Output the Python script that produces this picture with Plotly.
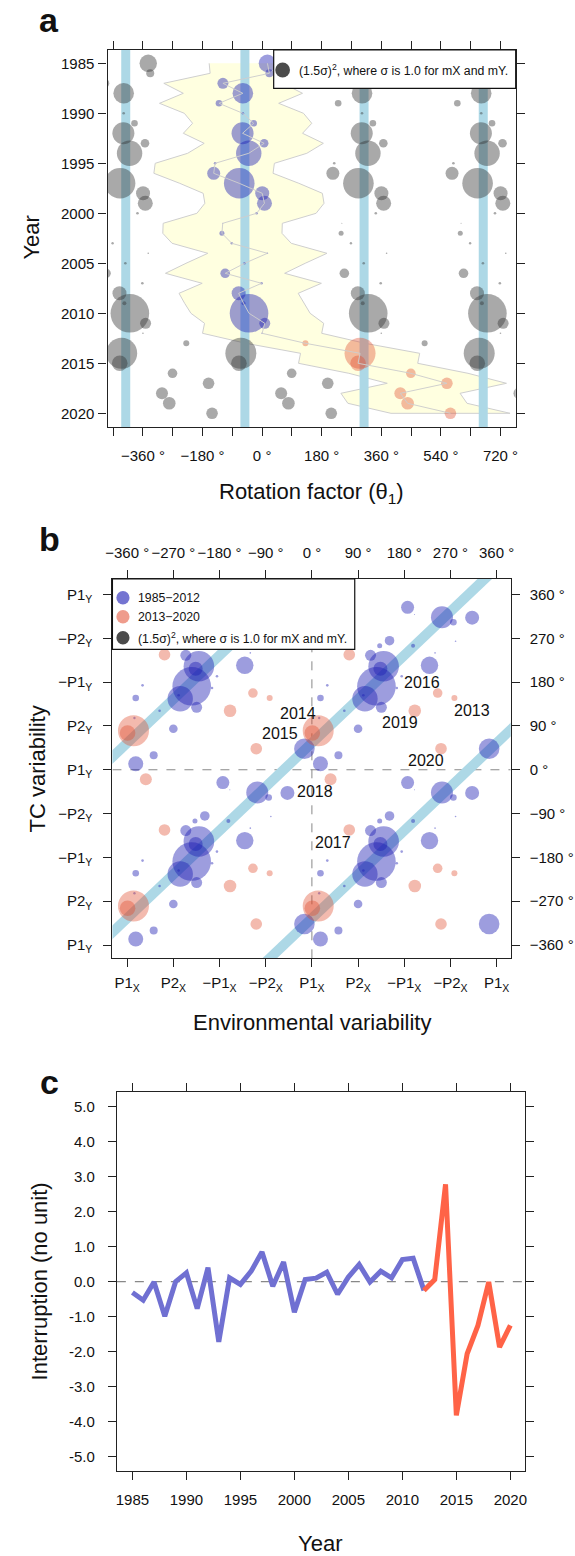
import plotly.graph_objects as go

W, H = 575, 1556

# ---------------- data ----------------
years = list(range(1985, 2021))

# panel a: rotation factor of the highlighted copy (degrees)
theta1 = [16.0, 22.0, -118.4, -58.2, -130.3, -58.2, -25.5, -59.1, 6.2, -40.4,
          -142.1, -146.3, -69.1, 0.3, 7.1, -16.6, -119.0, -121.4, -91.7, 16.0,
          -53.1, -111.6, -1.8, -70.9, -56.1, -39.5, 8.0, 0.0,
          130.9, 295.8, 289.9, 449.3, 558.2, 417.5, 439.5, 568.8]

# yellow band edges (degrees)
band_left = [-160, -157, -297, -238, -310, -235, -210, -238, -175, -225,
             -323, -327, -249, -178, -173, -197, -299, -300, -272, -164,
             -230, -292, -181, -251, -234, -215, -174, -180,
             -49, 116, 110, 262, 378, 238, 259, 389]
band_right = [200, 203, 63, 122, 50, 125, 150, 122, 185, 135,
              37, 33, 111, 182, 187, 163, 61, 60, 88, 196,
              130, 68, 179, 109, 126, 145, 186, 180,
              311, 476, 470, 622, 738, 598, 619, 749]

# panel b: environmental (mX) and TC (mY) phases, degrees
m_x = [229.2, 51.7, 114.3, -14.6, 16.7, 63.2, 275.8, 253.5, 90.0, 103.4,
       30.0, 186.5, 139.8, 312.3, 16.7, 175.0, 200.0, 132.1, 14.2, 280.0,
       100.3, 151.3, 165.4, 133.5, 197.2, 125.8, 135.4, 240.0,
       277.7, 12.3, 0.8, 245.1, 72.8, 36.4, 200.5, 251.6]
m_y = [214.5, 29.6, 235.1, 43.2, 147.3, 121.2, 302.9, 313.2, 84.3, 145.9,
       173.4, 333.7, 212.5, 312.4, 12.3, 191.9, 319.0, 254.8, 106.2, 264.0,
       152.9, 265.1, 167.9, 207.6, 254.8, 171.4, 128.2, 240.0,
       147.3, 80.1, 75.4, 157.6, 236.3, -19.7, 121.2, 43.2]

# circle radius (px), (1.5 sigma)^2 scaled
radius = [8.7, 4.0, 5.5, 10.3, 3.3, 1.3, 3.3, 11.0, 4.3, 12.7,
          1.3, 6.5, 15.3, 7.0, 7.5, 1.3, 0.5, 2.5, 1.2, 0.8,
          1.3, 4.8, 1.3, 7.0, 2.0, 19.3, 5.5, 0.8,
          3.0, 15.5, 7.8, 4.8, 5.8, 6.0, 6.3, 5.8]

# panel b year labels
label_years = ["2013", "2014", "2015", "2016", "2017", "2018", "2019", "2020"]
label_x = [311.6, -27.4, -61.3, 214.5, 41.4, 6.1, 171.8, 221.6]
label_y = [121.2, 116.5, 74.0, 180.2, -150.0, -45.2, 98.0, 18.5]

# panel c: interruption (no unit)
interruption = [-0.31, -0.53, -0.01, -0.99, 0.00, 0.25, -0.77, 0.40, -1.72, 0.11,
                -0.08, 0.30, 0.85, -0.13, 0.56, -0.87, 0.06, 0.10, 0.27, -0.36,
                0.13, 0.49, -0.01, 0.30, 0.11, 0.63, 0.67, -0.25,
                0.06, 2.78, -3.82, -2.06, -1.25, -0.01, -1.87, -1.25]

split_year = 2012
band_theta = [-412, -52, 308, 668]       # panel a reference bands
diag_offsets = [-305, 55, 415]           # panel b reference bands (mY - mX)

deg_major_a = list(range(-360, 721, 180))
deg_minor_a = list(range(-450, 721, 180))
deg_ticks_b = list(range(-360, 361, 90))
p_x_text = ["P1<sub>X</sub>", "P2<sub>X</sub>", "\u2212P1<sub>X</sub>", "\u2212P2<sub>X</sub>",
            "P1<sub>X</sub>", "P2<sub>X</sub>", "\u2212P1<sub>X</sub>", "\u2212P2<sub>X</sub>", "P1<sub>X</sub>"]
p_y_text = ["P1<sub>Y</sub>", "P2<sub>Y</sub>", "\u2212P1<sub>Y</sub>", "\u2212P2<sub>Y</sub>",
            "P1<sub>Y</sub>", "P2<sub>Y</sub>", "\u2212P1<sub>Y</sub>", "\u2212P2<sub>Y</sub>", "P1<sub>Y</sub>"]

# ---------------- style ----------------
FONT = "Liberation Sans, Arial, sans-serif"
GREY = "rgba(50,50,50,0.6)"
BLUE = "rgba(30,30,180,0.62)"
ORANGE = "rgba(225,75,45,0.55)"
LBLUE = "#ADD8E6"
XA = (-467, 766)
YA = (2021.37, 1983.67)
XB = (-388.7, 387.4)
YB = (-387.3, 391.8)
TICK_FS = 15
TITLE_FS = 22
LEG_FS = 12.3


def px(x):
    return x / W


def py(y):
    return 1 - y / H


def deg_label(v):
    s = f"{abs(v)} \u00b0"
    return ("\u2212" + s) if v < 0 else s


def note(x, y, text, size, **kw):
    fig.add_annotation(x=px(x), y=py(y), xref="paper", yref="paper", text=text,
                       showarrow=False, xanchor=kw.pop("xanchor", "center"),
                       yanchor="middle", font=dict(size=size, color="#111", family=FONT), **kw)


fig = go.Figure()

# ---------------- panel a ----------------
fig.add_trace(go.Scatter(
    x=band_left + band_right[::-1], y=years + years[::-1],
    fill="toself", fillcolor="#FFFFE0", mode="lines",
    line=dict(color="#cfcfcf", width=1), xaxis="x", yaxis="y", hoverinfo="skip"))

bx, by = [], []
for c in band_theta:
    bx += [c, c, None]
    by += [YA[1] - 1, YA[0] + 1, None]
fig.add_trace(go.Scatter(x=bx, y=by, mode="lines", line=dict(color=LBLUE, width=9),
                         xaxis="x", yaxis="y", hoverinfo="skip"))

gx, gy, gs = [], [], []
for yr, t, r in zip(years, theta1, radius):
    for k in (-3, -2, -1, 1, 2, 3):
        v = t + 360 * k
        if XA[0] - 40 < v < XA[1] + 40:
            gx.append(v)
            gy.append(yr)
            gs.append(2 * r)
fig.add_trace(go.Scatter(x=gx, y=gy, mode="markers",
                         marker=dict(size=gs, color=GREY, line=dict(width=0)),
                         xaxis="x", yaxis="y"))

for early, col in ((True, BLUE), (False, ORANGE)):
    sel = [i for i, yr in enumerate(years) if (yr <= split_year) == early]
    fig.add_trace(go.Scatter(
        x=[theta1[i] for i in sel], y=[years[i] for i in sel], mode="markers",
        marker=dict(size=[2 * radius[i] for i in sel], color=col, line=dict(width=0)),
        xaxis="x", yaxis="y"))

fig.add_trace(go.Scatter(x=theta1, y=years, mode="lines",
                         line=dict(color="rgba(205,205,205,0.95)", width=1),
                         xaxis="x", yaxis="y", hoverinfo="skip"))

# ---------------- panel b ----------------
dx, dy = [], []
for c in diag_offsets:
    dx += [-420, 420, None]
    dy += [-420 + c, 420 + c, None]
fig.add_trace(go.Scatter(x=dx, y=dy, mode="lines", line=dict(color=LBLUE, width=10),
                         xaxis="x2", yaxis="y2", hoverinfo="skip"))

for early, col in ((True, BLUE), (False, ORANGE)):
    cx, cy, cs = [], [], []
    for yr, a, b, r in zip(years, m_x, m_y, radius):
        if (yr <= split_year) != early:
            continue
        for i in (-1, 0, 1):
            for j in (-1, 0, 1):
                u, v = a + 360 * i, b + 360 * j
                if -360 <= u <= 360 and -360 <= v <= 360:
                    cx.append(u)
                    cy.append(v)
                    cs.append(2 * r)
    fig.add_trace(go.Scatter(x=cx, y=cy, mode="markers",
                             marker=dict(size=cs, color=col, line=dict(width=0)),
                             xaxis="x2", yaxis="y2"))

# invisible trace so the top / right degree axes of panel b get drawn
fig.add_trace(go.Scatter(x=[0], y=[0], mode="markers", marker=dict(size=0.1, opacity=0),
                         xaxis="x4", yaxis="y4", hoverinfo="skip"))

for t, lx, ly in zip(label_years, label_x, label_y):
    fig.add_annotation(x=lx, y=ly, xref="x2", yref="y2", text=t, showarrow=False,
                       xanchor="center", yanchor="middle",
                       font=dict(size=16, color="#111", family=FONT))

# ---------------- panel c ----------------
early_idx = [i for i, yr in enumerate(years) if yr <= split_year]
late_idx = [i for i, yr in enumerate(years) if yr >= split_year]
fig.add_trace(go.Scatter(x=[years[i] for i in early_idx], y=[interruption[i] for i in early_idx],
                         mode="lines", line=dict(color="#7070D2", width=5),
                         xaxis="x3", yaxis="y3"))
fig.add_trace(go.Scatter(x=[years[i] for i in late_idx], y=[interruption[i] for i in late_idx],
                         mode="lines", line=dict(color="#FF6347", width=5),
                         xaxis="x3", yaxis="y3"))

# dashed reference lines
fig.add_shape(type="line", xref="x2", yref="y2", x0=0, x1=0, y0=YB[0], y1=YB[1],
              line=dict(color="#888", width=1, dash="dash"), layer="below")
fig.add_shape(type="line", xref="x2", yref="y2", x0=XB[0], x1=XB[1], y0=0, y1=0,
              line=dict(color="#888", width=1, dash="dash"), layer="below")
fig.add_shape(type="line", xref="x3", yref="y3", x0=1983.56, x1=2021.37, y0=0, y1=0,
              line=dict(color="#888", width=1.2, dash="dash"), layer="below")

# ---------------- legends ----------------
fig.add_shape(type="rect", xref="paper", yref="paper", x0=px(271.4), x1=px(517.7),
              y0=py(88.3), y1=py(50), line=dict(color="#111", width=1.2),
              fillcolor="white", layer="above")
fig.add_shape(type="circle", xref="paper", yref="paper", x0=px(273), x1=px(288),
              y0=py(77.5), y1=py(62.5), line=dict(width=0),
              fillcolor="rgba(50,50,50,0.88)", layer="above")
note(295, 70, "(1.5\u03c3)<sup>2</sup>, where \u03c3 is 1.0 for mX and mY.", LEG_FS,
     xanchor="left")

fig.add_shape(type="rect", xref="paper", yref="paper", x0=px(107.3), x1=px(353.9),
              y0=py(649.3), y1=py(579), line=dict(color="#111", width=1.2),
              fillcolor="white", layer="above")
leg_items = [("1985\u22122012", BLUE, 597.7),
             ("2013\u22122020", ORANGE, 616.7),
             ("(1.5\u03c3)<sup>2</sup>, where \u03c3 is 1.0 for mX and mY.", "rgba(50,50,50,0.88)", 637.7)]
for txt, col, yy in leg_items:
    fig.add_shape(type="circle", xref="paper", yref="paper", x0=px(111.3), x1=px(124.7),
                  y0=py(yy + 6.7), y1=py(yy - 6.7), line=dict(width=0), fillcolor=col,
                  layer="above")
    note(131, yy, txt, LEG_FS, xanchor="left")

# ---------------- titles / panel letters ----------------
titles = [
    ("Rotation factor (\u03b8<sub>1</sub>)", 310, 493, 0),
    ("Year", 24, 238, -90),
    ("Environmental variability", 310, 1022, 0),
    ("TC variability", 31, 769, -90),
    ("Year", 319, 1543, 0),
    ("Interruption (no unit)", 33, 1281, -90),
]
for txt, x, y, ang in titles:
    note(x, y, txt, TITLE_FS, textangle=ang)
for letter, y in (("a", 20), ("b", 539), ("c", 1082)):
    note(43, y, f"<b>{letter}</b>", 34)

# ---------------- axes ----------------
base = dict(showline=True, linecolor="#222", linewidth=1.2, ticks="outside", ticklen=8,
            tickwidth=1, tickcolor="#222", showgrid=False, zeroline=False,
            tickfont=dict(size=TICK_FS, color="#111", family=FONT), tickmode="array")

fig.update_layout(
    width=W, height=H, margin=dict(l=0, r=0, t=0, b=0),
    paper_bgcolor="white", plot_bgcolor="white", showlegend=False,
    font=dict(family=FONT, color="#111"),
    xaxis=dict(base, domain=[px(102.3), px(517.7)], anchor="y", range=list(XA),
               tickvals=deg_major_a, ticktext=[deg_label(v) for v in deg_major_a],
               minor=dict(tickvals=deg_minor_a, ticks="outside", ticklen=8,
                          tickcolor="#222", showgrid=False),
               mirror="ticks", ticklabelstandoff=7),
    yaxis=dict(base, domain=[py(427), py(50)], anchor="x", range=list(YA),
               tickvals=list(range(1985, 2021, 5)), mirror="ticks", ticklabelstandoff=1),
    xaxis2=dict(base, domain=[px(107.3), px(512.6)], anchor="y2", range=list(XB),
                tickvals=deg_ticks_b, ticktext=p_x_text, mirror=True, ticklabelstandoff=3),
    yaxis2=dict(base, domain=[py(958.3), py(579)], anchor="x2", range=list(YB),
                tickvals=deg_ticks_b, ticktext=p_y_text, mirror=True, ticklabelstandoff=8),
    xaxis4=dict(base, overlaying="x2", side="top", anchor="y2", range=list(XB),
                tickvals=deg_ticks_b, ticktext=[deg_label(v) for v in deg_ticks_b],
                showline=False, ticklabelstandoff=6),
    yaxis4=dict(base, overlaying="y2", side="right", anchor="x2", range=list(YB),
                tickvals=deg_ticks_b, ticktext=[deg_label(v) for v in deg_ticks_b],
                showline=False, ticklabelstandoff=7),
    xaxis3=dict(base, domain=[px(111.8), px(527.3)], anchor="y3", range=[1983.56, 2021.37],
                tickvals=list(range(1985, 2021, 5)), mirror="ticks", ticklabelstandoff=7),
    yaxis3=dict(base, domain=[py(1471), py(1092.3)], anchor="x3", range=[-5.41, 5.41],
                tickvals=list(range(-5, 6)),
                ticktext=[f"{v:.1f}" for v in range(-5, 6)], mirror="ticks",
                ticklabelstandoff=10),
)

fig.write_html("out.html", config={"displayModeBar": False},
               post_script="document.body.style.margin='0px';")
